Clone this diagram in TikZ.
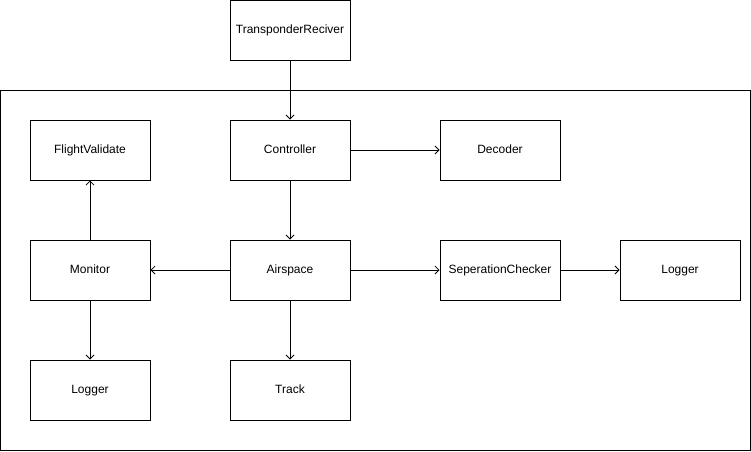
\documentclass[tikz,border=0pt]{standalone}
\usepackage{fontspec}
\setmainfont{Liberation Sans}
\usetikzlibrary{arrows.meta}
\begin{document}
\begin{tikzpicture}[x=1pt,y=-1pt,line width=1pt,
  module/.style={draw=black,minimum width=120pt,minimum height=60pt,inner sep=0pt,text height=9pt,text depth=2.5pt,font=\fontsize{12}{14}\selectfont},
  link/.style={-{Straight Barb[length=4pt,width=8pt,line width=.8pt]},line width=.8pt}]
\useasboundingbox (0,0) rectangle (751,451);
\draw (0.5,90.5) rectangle (750.5,450.5);
\node[module] (receiver) at (290,30) {TransponderReciver};
\node[module] (controller) at (290,150) {Controller};
\node[module] (decoder) at (500,150) {Decoder};
\node[module] (validate) at (90,150) {FlightValidate};
\node[module] (monitor) at (90,270) {Monitor};
\node[module] (airspace) at (290,270) {Airspace};
\node[module] (checker) at (500,270) {SeperationChecker};
\node[module] (logger) at (680,270) {Logger};
\node[module] (monlogger) at (90,390) {Logger};
\node[module] (track) at (290,390) {Track};
\draw[link] (receiver) -- (controller);
\draw[link] (controller) -- (decoder);
\draw[link] (controller) -- (airspace);
\draw[link] (airspace) -- (monitor);
\draw[link] (airspace) -- (checker);
\draw[link] (airspace) -- (track);
\draw[link] (checker) -- (logger);
\draw[link] (monitor) -- (validate);
\draw[link] (monitor) -- (monlogger);
\end{tikzpicture}
\end{document}
